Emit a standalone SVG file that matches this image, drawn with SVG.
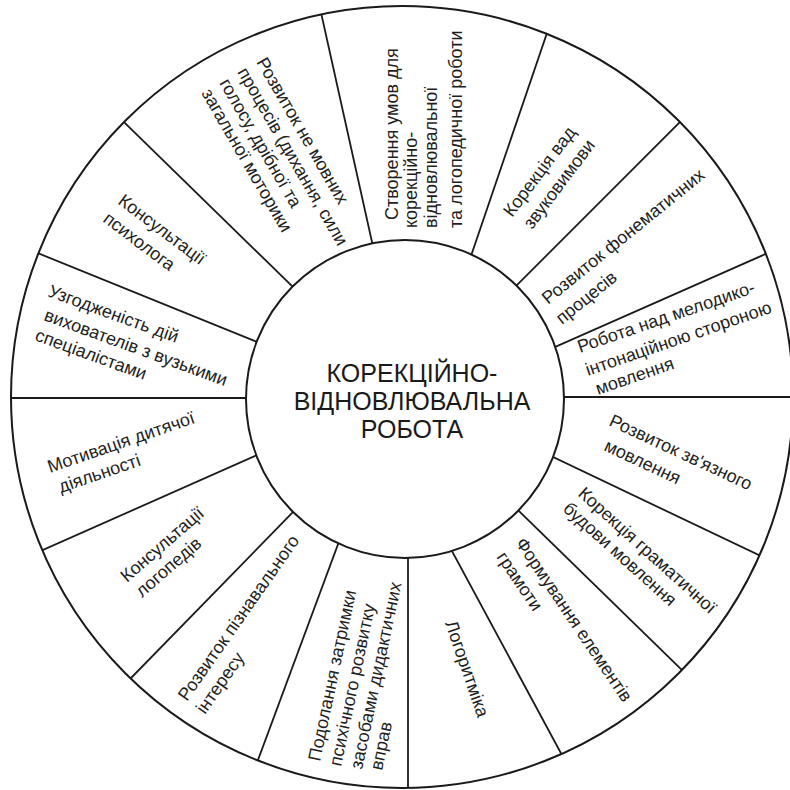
<svg xmlns="http://www.w3.org/2000/svg" width="790" height="790" viewBox="0 0 790 790">
<style>
.ring{fill:#fff;stroke:#1a1a1a;stroke-width:2}
.div line{stroke:#1a1a1a;stroke-width:1.8}
.lb{font-family:"Liberation Sans",Arial,sans-serif;font-size:18px;fill:#1e1e1e}
.ct{font-family:"Liberation Sans",Arial,sans-serif;font-size:25px;fill:#1a1a1a;text-anchor:middle}
</style>
<defs>
<clipPath id="outer"><circle cx="402" cy="397" r="391"/></clipPath>
</defs>
<rect width="790" height="790" fill="#fff"/>
<circle id="outer-ring" class="ring" cx="402" cy="397" r="391"/>
<g id="connectors" class="div" clip-path="url(#outer)">
<line x1="387" y1="309.5" x2="312" y2="-28"/>
<line x1="449.5" y1="319" x2="562" y2="-11"/>
<line x1="468.1" y1="333.9" x2="712.6" y2="89.4"/>
<line x1="490.5" y1="375.5" x2="813" y2="233"/>
<line x1="500" y1="397" x2="800" y2="397"/>
<line x1="489.4" y1="426.7" x2="807.4" y2="578.2"/>
<line x1="474.4" y1="467.6" x2="717.4" y2="704.6"/>
<line x1="420" y1="491.8" x2="585" y2="797.8"/>
<line x1="408" y1="500" x2="408" y2="800"/>
<line x1="360.7" y1="483.1" x2="242.2" y2="802.6"/>
<line x1="341.3" y1="462.5" x2="99.8" y2="710"/>
<line x1="321.2" y1="426.5" x2="0.2" y2="569"/>
<line x1="320" y1="398" x2="0" y2="398"/>
<line x1="322.1" y1="368.4" x2="-3.4" y2="236.4"/>
<line x1="342.8" y1="335.6" x2="93.8" y2="92.6"/>
</g>
<g id="center">
<circle class="ring" cx="405" cy="399" r="159"/>
<text class="ct" x="412" y="382">КОРЕКЦІЙНО-</text>
<text class="ct" x="412" y="410">ВІДНОВЛЮВАЛЬНА</text>
<text class="ct" x="412" y="438">РОБОТА</text>
</g>
<g id="s01" class="lb">
<text transform="translate(398,220) rotate(-90)">Створення умов для</text>
<text transform="translate(417,228) rotate(-90)">корекційно-</text>
<text transform="translate(437,228) rotate(-90)">відновлювальної</text>
<text transform="translate(462,228) rotate(-90)">та логопедичної роботи</text>
</g>
<g id="s02" class="lb">
<text transform="translate(512,218) rotate(-53)">Корекція вад</text>
<text transform="translate(532,230) rotate(-53)">звуковимови</text>
</g>
<g id="s03" class="lb">
<text transform="translate(548,305) rotate(-39)">Розвиток фонематичних</text>
<text transform="translate(562,325) rotate(-39)">процесів</text>
</g>
<g id="s04" class="lb">
<text transform="translate(580,353) rotate(-19)">Робота над мелодико-</text>
<text transform="translate(588,376) rotate(-19)">інтонаційною стороною</text>
<text transform="translate(598,395) rotate(-19)">мовлення</text>
</g>
<g id="s05" class="lb">
<text transform="translate(608,425) rotate(25)">Розвиток зв'язного</text>
<text transform="translate(603,450) rotate(25)">мовлення</text>
</g>
<g id="s06" class="lb">
<text transform="translate(577,495) rotate(42)">Корекція граматичної</text>
<text transform="translate(562,510) rotate(42)">будови мовлення</text>
</g>
<g id="s07" class="lb">
<text transform="translate(515,543) rotate(56)">Формування елементів</text>
<text transform="translate(496,557) rotate(56)">грамоти</text>
</g>
<g id="s08" class="lb">
<text transform="translate(445,623) rotate(71)">Логоритміка</text>
</g>
<g id="s09" class="lb">
<text transform="translate(320,762) rotate(-78)">Подолання затримки</text>
<text transform="translate(341,767) rotate(-78)">психічного розвитку</text>
<text transform="translate(362,770) rotate(-78)">засобами дидактичних</text>
<text transform="translate(382,771) rotate(-78)">вправ</text>
</g>
<g id="s10" class="lb">
<text transform="translate(187,702) rotate(-55)">Розвиток пізнавального</text>
<text transform="translate(205,715) rotate(-55)">інтересу</text>
</g>
<g id="s11" class="lb">
<text transform="translate(127,583) rotate(-41)">Консультації</text>
<text transform="translate(142,598) rotate(-41)">логопедів</text>
</g>
<g id="s12" class="lb">
<text transform="translate(50,473) rotate(-19)">Мотивація дитячої</text>
<text transform="translate(61,493) rotate(-19)">діяльності</text>
</g>
<g id="s13" class="lb">
<text transform="translate(47,296) rotate(20)">Узгодженість дій</text>
<text transform="translate(43,320) rotate(20)">вихователів з вузькими</text>
<text transform="translate(34,340) rotate(20)">спеціалістами</text>
</g>
<g id="s14" class="lb">
<text transform="translate(117,203) rotate(37)">Консультації</text>
<text transform="translate(102,221) rotate(37)">психолога</text>
</g>
<g id="s15" class="lb">
<text transform="translate(256,62) rotate(60)">Розвиток не мовних</text>
<text transform="translate(237,72) rotate(60)">процесів (дихання, сили</text>
<text transform="translate(219,83) rotate(60)">голосу, дрібної та</text>
<text transform="translate(201,93) rotate(60)">загальної моторики</text>
</g>
</svg>
